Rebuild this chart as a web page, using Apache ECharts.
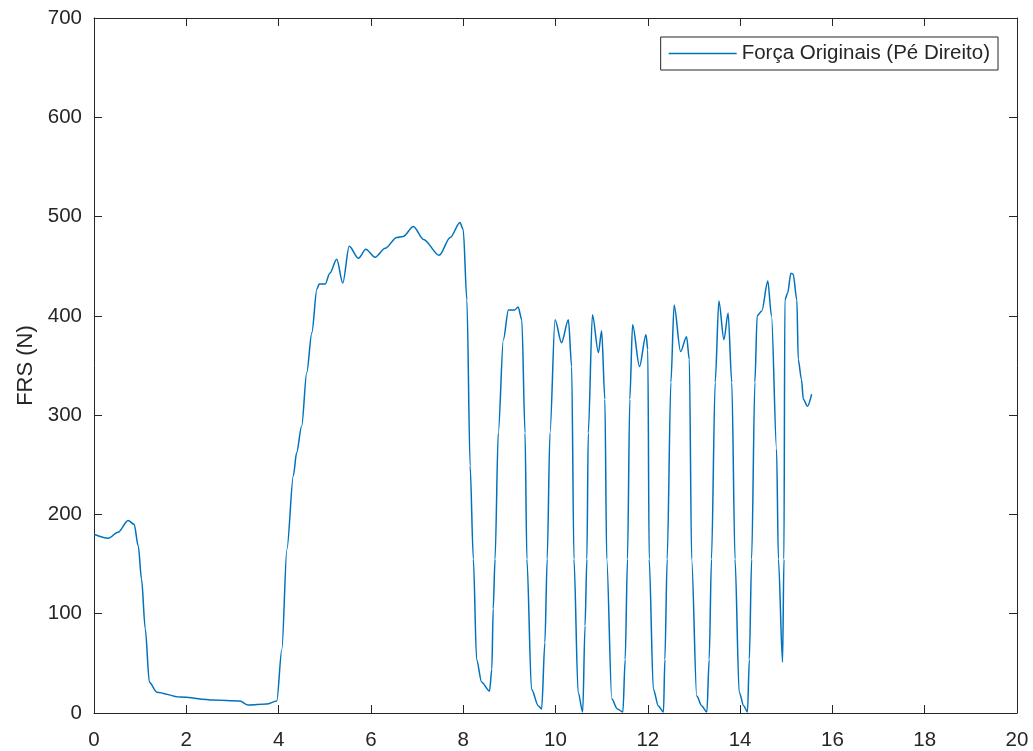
<!DOCTYPE html>
<html>
<head>
<meta charset="utf-8">
<title>FRS</title>
<script src="https://cdn.jsdelivr.net/npm/echarts@6/dist/echarts.min.js"></script>
<style>
html,body{margin:0;padding:0;background:#fff;}
#chart{width:1033px;height:751px;}
</style>
</head>
<body>
<div id="chart"></div>
<script>
var seriesName = "Força Originais (Pé Direito)";
var axisName = "FRS (N)";
var xTicks = [0, 2, 4, 6, 8, 10, 12, 14, 16, 18, 20];
var yTicks = [0, 100, 200, 300, 400, 500, 600, 700];

/* tempo (s) e força (N) */
var timeValues = [
    0, 0.31, 0.52, 0.74, 0.87, 0.96, 1.03, 1.11, 1.20, 1.36, 1.86, 2.58, 3.16, 3.34, 3.74, 3.96,
    4.07, 4.18, 4.32, 4.39, 4.50, 4.61, 4.72, 4.83, 4.88, 5.01, 5.11, 5.26, 5.39, 5.53, 5.73, 5.89,
    6.09, 6.31, 6.56, 6.70, 6.92, 7.14, 7.48, 7.72, 7.93,
    8.00, 8.08, 8.15, 8.22, 8.29, 8.40, 8.57, 8.62, 8.65, 8.69, 8.76, 8.87, 8.98, 9.12, 9.19, 9.27,
    9.34, 9.38, 9.48, 9.63, 9.70, 9.77, 9.82, 9.88, 9.99, 10.13, 10.28, 10.35,
    10.40, 10.49, 10.59, 10.64, 10.68, 10.71, 10.80, 10.93, 11.00, 11.07,
    11.11, 11.22, 11.34, 11.46, 11.51, 11.56, 11.61, 11.67, 11.82, 11.96, 12.00,
    12.03, 12.12, 12.23, 12.34, 12.37, 12.42, 12.50, 12.57, 12.71, 12.84, 12.90,
    12.95, 13.06, 13.17, 13.28, 13.33, 13.38, 13.46, 13.54, 13.65, 13.74, 13.82,
    13.89, 13.98, 14.08, 14.16, 14.20, 14.25, 14.32, 14.37, 14.47, 14.60, 14.68, 14.79,
    14.83, 14.92, 14.95, 14.97, 15.03, 15.10, 15.15, 15.23, 15.26, 15.33, 15.37, 15.46, 15.55
];
var forceValues = [
    180, 176, 182, 194, 190, 168, 135, 85, 31, 21, 16, 13, 12, 8, 9, 12,
    64, 165, 239, 262, 289, 343, 383, 427, 432, 432, 443, 457, 433, 470, 458, 467,
    459, 468, 479, 480, 490, 477, 461, 479, 494,
    487, 416, 249, 155, 54, 31, 22, 44, 105, 155, 282, 376, 406, 406, 409, 396,
    282, 155, 24, 7, 4, 71, 155, 282, 396, 373, 396, 349,
    155, 21, 1, 88, 155, 282, 401, 363, 385, 316,
    155, 14, 4, 1, 54, 155, 316, 391, 349, 381, 366,
    155, 24, 7, 1, 54, 155, 333, 411, 364, 379, 356,
    155, 17, 7, 1, 54, 155, 333, 415, 376, 403, 333,
    155, 21, 7, 1, 54, 155, 333, 400, 405, 435, 400, 266,
    155, 51, 155, 416, 423, 443, 442, 416, 356, 336, 316, 309, 321
];

var points = timeValues.map(function(t, i){ return [t, forceValues[i]]; });

var textColor = "#262626";
var fontFamily = "'Liberation Sans', Arial, sans-serif";

function boxAxis(pos, ticks, showLabel){
    var ax = {
        type: "value",
        position: pos,
        min: ticks[0],
        max: ticks[ticks.length - 1],
        interval: ticks[1] - ticks[0],
        axisLine: {show: true, onZero: false, lineStyle: {color: textColor, width: 1}},
        axisTick: {show: true, inside: true, length: 8, lineStyle: {color: textColor}},
        splitLine: {show: false},
        axisLabel: {show: showLabel, color: textColor, fontSize: 20.5, fontFamily: fontFamily}
    };
    return ax;
}

var chart = echarts.init(document.getElementById("chart"));

var xBottom = boxAxis("bottom", xTicks, true);
xBottom.axisLabel.margin = 17;
var xTop = boxAxis("top", xTicks, false);
var yLeft = boxAxis("left", yTicks, true);
yLeft.axisLabel.margin = 12;
yLeft.name = axisName;
yLeft.nameLocation = "middle";
yLeft.nameGap = 54;
yLeft.nameTextStyle = {color: textColor, fontSize: 22, fontFamily: fontFamily};
var yRight = boxAxis("right", yTicks, false);

var option = {
    animation: false,
    backgroundColor: "#ffffff",
    grid: {left: 94, top: 18, right: 16, bottom: 37, containLabel: false},
    legend: {
        data: [seriesName],
        right: 35,
        top: 37,
        orient: "horizontal",
        backgroundColor: "#ffffff",
        borderColor: textColor,
        borderWidth: 1,
        borderRadius: 0,
        padding: [6, 8, 6, 8],
        icon: "rect",
        itemWidth: 68,
        itemHeight: 1.5,
        textStyle: {color: textColor, fontSize: 20.5, fontFamily: fontFamily}
    },
    xAxis: [xBottom, xTop],
    yAxis: [yLeft, yRight],
    series: [{
        name: seriesName,
        type: "line",
        xAxisIndex: 0,
        yAxisIndex: 0,
        data: points,
        symbol: "none",
        smooth: 0.3,
        smoothMonotone: "x",
        lineStyle: {color: "#0072BD", width: 1.5},
        itemStyle: {color: "#0072BD"}
    }]
};
chart.setOption(option);
</script>
</body>
</html>
